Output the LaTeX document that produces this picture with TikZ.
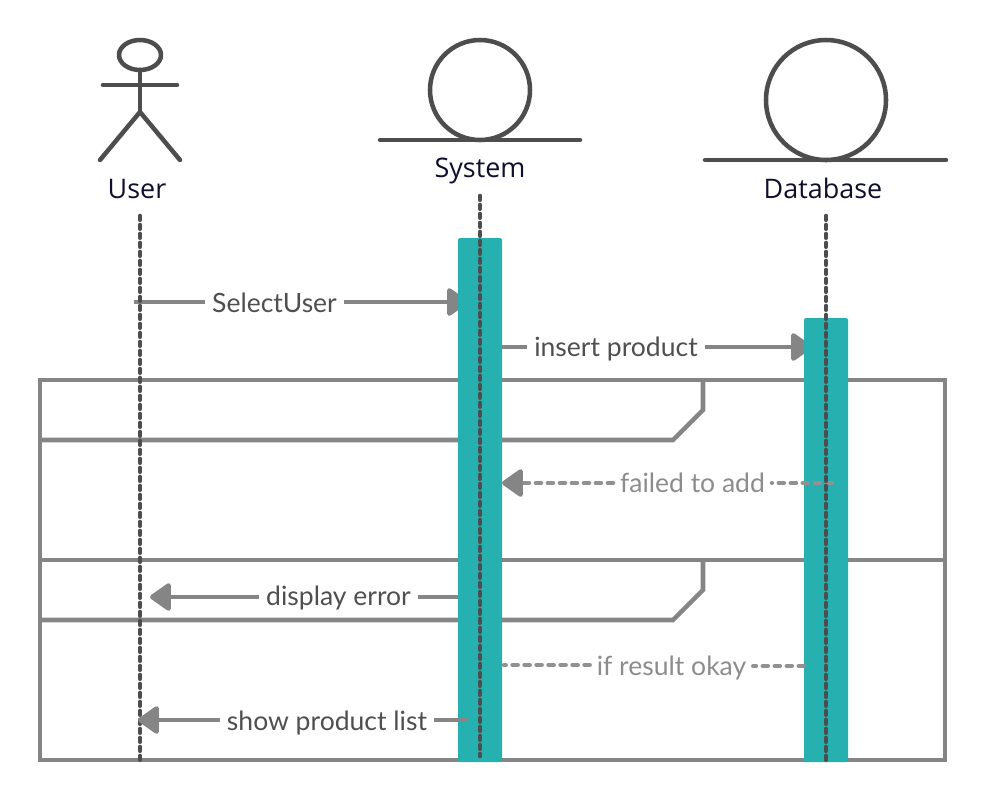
\documentclass[tikz,border=0pt]{standalone}
\usepackage{fontspec}
\setmainfont{Lato}
\newfontfamily\titlefont{Open Sans}
\usetikzlibrary{arrows.meta}
\definecolor{inkdark}{HTML}{4D4D4D}
\definecolor{framegrey}{HTML}{858585}
\definecolor{msgtext}{HTML}{4F4F4F}
\definecolor{softtext}{HTML}{8C8C8C}
\definecolor{barteal}{HTML}{26B0AF}
\definecolor{titleink}{HTML}{0F0F2D}
\tikzset{
  glyph/.style={draw=inkdark,line width=3.4pt,line cap=round,line join=round},
  lifeline/.style={draw=inkdark,line width=3.5pt,line cap=round,dash pattern=on 2.8pt off 3.95pt},
  fragment/.style={draw=framegrey,line width=3.4pt,line join=miter},
  activation/.style={fill=barteal,rounded corners=1.5pt,draw=none},
  title/.style={font=\titlefont\fontsize{20.2}{23}\selectfont,text=titleink,inner sep=0pt},
  msglabel/.style={font=\fontsize{19.9}{24}\selectfont,text=msgtext,inner xsep=5pt,inner ysep=0pt},
  softlabel/.style={msglabel,text=softtext},
  msg/.style={draw=framegrey,line width=3.4pt},
  softmsg/.style={draw=framegrey!90,line width=3.2pt,line cap=round,dash pattern=on 4pt off 5pt},
  head/.style={-{Triangle[length=17pt,width=23pt,round]}},
}
\begin{document}
\begin{tikzpicture}[x=0.75pt,y=-0.75pt]
\useasboundingbox (0,0) rectangle (986,801);
% frames
\coordinate (fTL) at (40,380); \coordinate (fBR) at (945,760);
\draw[fragment] (fTL) rectangle (fBR);
\draw[fragment] (40,560) -- (945,560);
\draw[fragment] (40,440) -- (673,440) -- (703,410) -- (703,380);
\draw[fragment] (40,620) -- (673,620) -- (703,590) -- (703,560);
% labels
\node[msglabel]  (lSelect)  at (274.5,302.5) {SelectUser};
\node[msglabel]  (lInsert)  at (616,348.5)   {insert product};
\node[softlabel] (lFailed)  at (692.5,483)   {failed to add};
\node[msglabel]  (lDisplay) at (338.5,598)   {display error};
\node[softlabel] (lOkay)    at (671.5,667.5) {if result okay};
\node[msglabel]  (lShow)    at (327,722.5)   {show product list};
% end points
\coordinate (uSel) at (134,302);  \coordinate (sSel) at (468,302);
\coordinate (sIns) at (495,347);  \coordinate (dIns) at (812,347);
\coordinate (dFail) at (832,483); \coordinate (sFail) at (502,483);
\coordinate (sDisp) at (470,597); \coordinate (uDisp) at (150,597);
\coordinate (dOk) at (804,666);   \coordinate (sOk) at (504,665);
\coordinate (sShow) at (467,720); \coordinate (uShow) at (138,720);
\coordinate (lFailedIn) at (516,483);
% messages running behind the bars
\draw[msg,head] (lSelect.east|-sSel) -- (sSel);
\draw[msg,head] (lInsert.east|-dIns) -- (dIns);
\draw[msg] (sIns) -- (lInsert.west|-sIns);
\draw[msg,head] (lDisplay.west|-uDisp) -- (uDisp);
\draw[msg] (sDisp) -- (lDisplay.east|-sDisp);
% activation bars
\fill[activation] (458,238) rectangle (502,762);
\fill[activation] (804,318) rectangle (848,762);
% messages on top of the bars
\draw[msg] (uSel) -- (lSelect.west|-uSel);
\draw[softmsg] (dFail) -- (lFailed.east|-dFail);
\draw[softmsg] (lFailed.west|-sFail) -- (lFailedIn);
\draw[msg,head] (lFailedIn) -- (sFail);
\draw[softmsg] (dOk) -- (lOkay.east|-dOk);
\draw[softmsg] (lOkay.west|-sOk) -- (sOk);
\draw[msg] (sShow) -- (lShow.east|-sShow);
% lifelines
\coordinate (uTop) at (140,216); \coordinate (uEnd) at (140,760);
\coordinate (sTop) at (480,196); \coordinate (sEnd) at (480,756);
\coordinate (dTop) at (826,216); \coordinate (dEnd) at (826,760);
\draw[lifeline] (uTop) -- (uEnd);
\draw[lifeline] (sTop) -- (sEnd);
\draw[lifeline] (dTop) -- (dEnd);
\draw[msg,head] (lShow.west|-uShow) -- (uShow);
% actor
\draw[glyph] (140,55) ellipse [x radius=21,y radius=15];
\draw[glyph] (140,70) -- (140,112);
\draw[glyph] (103,85) -- (177,85);
\draw[glyph] (100,160) -- (140,112) -- (180,160);
\node[title] (tUser) at (137,189) {User};
% system entity
\draw[glyph] (480,90) circle [radius=50];
\draw[glyph] (380,140) -- (580,140);
\node[title] (tSystem) at (480,171) {System};
% database entity
\draw[glyph] (826,100) circle [radius=60];
\draw[glyph] (705,160) -- (946,160);
\node[title] (tData) at (823,188) {Database};
\end{tikzpicture}
\end{document}
